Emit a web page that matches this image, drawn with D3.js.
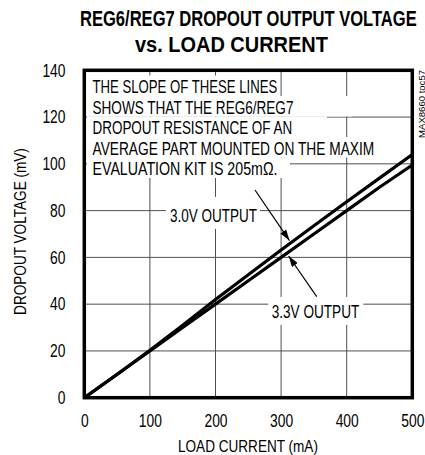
<!DOCTYPE html>
<html>
<head>
<meta charset="utf-8">
<script src="https://cdn.jsdelivr.net/npm/d3@7"></script>
<style>
  body { margin: 0; background: #fff; }
  text { font-family: "Liberation Sans", Arial, sans-serif; fill: #000; }
</style>
</head>
<body>
<svg id="chart" width="425" height="455"></svg>
<script>
// Load current (mA) and measured dropout voltage (mV) for each regulator output
const loadCurrent = [0, 50, 100, 150, 200, 250, 300, 350, 400, 450, 500];
const dropout30 = [0, 9.9, 20.3, 31, 42, 52.6, 63.2, 73.5, 83.8, 93.9, 104];
const dropout33 = [0, 10, 20, 30, 40, 50, 60, 70, 80, 90, 99.5];

const xTicks = [0, 100, 200, 300, 400, 500];
const yTicks = [0, 20, 40, 60, 80, 100, 120, 140];

const titleLines = ["REG6/REG7 DROPOUT OUTPUT VOLTAGE", "vs. LOAD CURRENT"];
const xTitle = "LOAD CURRENT (mA)";
const yTitle = "DROPOUT VOLTAGE (mV)";
const docId = "MAX8660 toc57";

const noteLines = [
  "THE SLOPE OF THESE LINES",
  "SHOWS THAT THE REG6/REG7",
  "DROPOUT RESISTANCE OF AN",
  "AVERAGE PART MOUNTED ON THE MAXIM",
  "EVALUATION KIT IS 205m\u03A9."
];

const seriesLabels = ["3.0V OUTPUT", "3.3V OUTPUT"];
// callout arrows in data units: [tailX, tailY, tipX, tipY]
const arrow30 = [260.2, 88.8, 312.8, 67.2];
const arrow33 = [354.3, 43.2, 311.5, 60.6];
// label text origin in data units
const label30At = [130.6, 75.2];
const label33At = [285.7, 33.9];

// ---------------------------------------------------------------
const svg = d3.select("#chart");
const m = { left: 84.3, top: 70.3, right: 412.3, bottom: 397.7 };

const x = d3.scaleLinear().domain([0, 500]).range([m.left, m.right]);
const y = d3.scaleLinear().domain([0, 140]).range([m.bottom, m.top]);

// Draws a horizontally condensed text: the string is squeezed to `len` px
// by scaling about its own origin (x, y), optionally rotated.
function condensed(parent, str, px, py, len, opts = {}) {
  const g = parent.append("g")
    .attr("transform", `translate(${px},${py})` + (opts.rotate ? ` rotate(${opts.rotate})` : ""));
  const t = g.append("text")
    .attr("font-size", opts.size || 18)
    .attr("font-weight", opts.weight || null)
    .attr("text-anchor", opts.anchor || "start")
    .text(str);
  const natural = t.node().getComputedTextLength();
  t.attr("transform", `scale(${len / natural},1)`);
  return t;
}

// title
const titleSpec = [
  { x: 80, y: 26, len: 337 },
  { x: 135, y: 51.7, len: 193 }
];
titleLines.forEach((s, i) =>
  condensed(svg, s, titleSpec[i].x, titleSpec[i].y, titleSpec[i].len, { size: 22, weight: "bold" }));

// grid
const grid = svg.append("g").attr("stroke", "#505050").attr("stroke-width", 1);
grid.selectAll("line.gx").data(xTicks.slice(1, -1)).join("line")
  .attr("x1", d => x(d)).attr("x2", d => x(d))
  .attr("y1", m.top).attr("y2", m.bottom);
grid.selectAll("line.gy").data(yTicks.slice(1, -1)).join("line")
  .attr("y1", d => y(d)).attr("y2", d => y(d))
  .attr("x1", m.left).attr("x2", m.right);

// note block: each line sits on its own white backing strip
const noteX = 92.5, noteBase0 = 93, noteStep = 20.5;
const noteRight = [280, 352, 327, 378, 290];
const noteLen = [185, 201, 200, 282, 185];
const note = svg.append("g");
note.selectAll("rect").data(noteLines).join("rect")
  .attr("x", 87)
  .attr("y", (d, i) => noteBase0 + i * noteStep - 17.5)
  .attr("width", (d, i) => noteRight[i] - 87)
  .attr("height", noteStep)
  .attr("fill", "#fff");
noteLines.forEach((s, i) =>
  condensed(note, s, noteX, noteBase0 + i * noteStep, noteLen[i], { size: 18.5 }));

// series labels with white backing
const labels = [
  { text: seriesLabels[0], at: label30At, len: 87, box: [-4, -25, 94, 32] },
  { text: seriesLabels[1], at: label33At, len: 87.6, box: [-3.5, -21.5, 95, 28] }
];
const lab = svg.append("g");
labels.forEach(l => {
  const lx = x(l.at[0]), ly = y(l.at[1]);
  lab.append("rect")
    .attr("x", lx + l.box[0]).attr("y", ly + l.box[1])
    .attr("width", l.box[2]).attr("height", l.box[3])
    .attr("fill", "#fff");
  condensed(lab, l.text, lx, ly, l.len, { size: 18.5 });
});

// data lines
const line = d3.line().x(d => x(d[0])).y(d => y(d[1]));
const series = [
  d3.zip(loadCurrent, dropout30),
  d3.zip(loadCurrent, dropout33)
];
svg.append("g").selectAll("path").data(series).join("path")
  .attr("d", line)
  .attr("fill", "none")
  .attr("stroke", "#000")
  .attr("stroke-width", 3.2)
  .attr("stroke-linejoin", "round");

// callout arrows
svg.append("defs").append("marker")
  .attr("id", "head")
  .attr("markerUnits", "userSpaceOnUse")
  .attr("viewBox", "0 0 11 7")
  .attr("markerWidth", 11).attr("markerHeight", 7)
  .attr("refX", 11).attr("refY", 3.5)
  .attr("orient", "auto")
  .append("path").attr("d", "M0,0 L11,3.5 L0,7 Z").attr("fill", "#000");

svg.append("g").selectAll("line").data([arrow30, arrow33]).join("line")
  .attr("x1", d => x(d[0])).attr("y1", d => y(d[1]))
  .attr("x2", d => x(d[2])).attr("y2", d => y(d[3]))
  .attr("stroke", "#000").attr("stroke-width", 1.2)
  .attr("marker-end", "url(#head)");

// frame
svg.append("rect")
  .attr("x", m.left).attr("y", m.top)
  .attr("width", m.right - m.left).attr("height", m.bottom - m.top)
  .attr("fill", "none").attr("stroke", "#000").attr("stroke-width", 3.5);

// axes (labels only); digits are condensed by scaling each label
const digitW = 7.7;
function squeezeTicks(sel, pad) {
  sel.each(function (d) {
    const t = d3.select(this).attr("font-size", 18)
      .attr("font-family", "Liberation Sans, Arial, sans-serif");
    const k = (String(d).length * digitW) / this.getComputedTextLength();
    if (pad !== undefined) t.attr("x", -pad / k);
    t.attr("transform", `scale(${k},1)`);
  });
}

const yAxis = svg.append("g")
  .attr("transform", `translate(${m.left},0)`)
  .call(d3.axisLeft(y).tickValues(yTicks).tickSize(0).tickPadding(18.8));
yAxis.select(".domain").remove();
squeezeTicks(yAxis.selectAll("text"), 18.8);

const xAxis = svg.append("g")
  .attr("transform", `translate(0,${m.bottom})`)
  .call(d3.axisBottom(x).tickValues(xTicks).tickSize(0).tickPadding(16.6));
xAxis.select(".domain").remove();
squeezeTicks(xAxis.selectAll("text"));

// axis titles
condensed(svg, xTitle, 178, 452, 140, { size: 17 });
condensed(svg, yTitle, 25.5, 231.5, 167, { size: 17, rotate: -90, anchor: "middle" });

// part reference along the right edge
condensed(svg, docId, 424.5, 70, 68, { size: 9.5, rotate: -90, anchor: "end" });
</script>
</body>
</html>
